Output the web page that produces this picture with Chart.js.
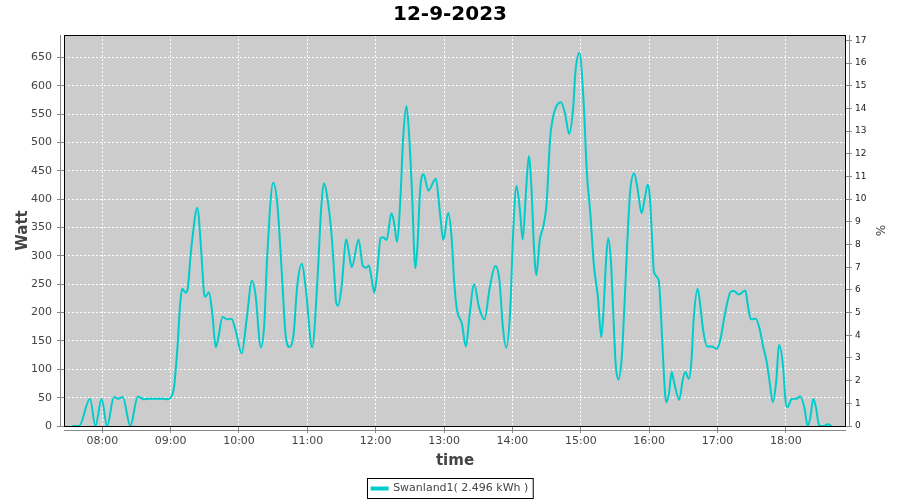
<!DOCTYPE html>
<html lang="en">
<head>
  <meta charset="UTF-8" />
  <title>12-9-2023</title>
  <script src="https://cdn.jsdelivr.net/npm/chart.js"></script>
  <style>
    body {
      margin: 0;
      background-color: #ffffff;
    }
    #wrap {
      width: 900px;
      height: 500px;
    }
  </style>
</head>
<body>
  <div id="wrap"><canvas id="powerChart"></canvas></div>

  <script>
    // time of day in hours, power in watt
    const times = [
      7.56, 7.66, 7.82, 7.90, 7.99, 8.07, 8.17, 8.23, 8.30, 8.41, 8.52, 8.61, 8.66, 8.78, 8.90, 8.95,
      9.00, 9.05, 9.10, 9.14, 9.17, 9.22, 9.25, 9.29, 9.32, 9.39, 9.45, 9.49, 9.51, 9.56, 9.61, 9.66,
      9.69, 9.76, 9.83, 9.89, 9.95, 10.04, 10.11, 10.19, 10.24, 10.32, 10.37, 10.41, 10.50, 10.56, 10.63, 10.68,
      10.74, 10.80, 10.85, 10.92, 10.98, 11.07, 11.15, 11.20, 11.24, 11.32, 11.36, 11.39, 11.42, 11.45, 11.50, 11.57,
      11.61, 11.65, 11.75, 11.81, 11.86, 11.90, 11.94, 11.98, 12.02, 12.07, 12.11, 12.16, 12.23, 12.27, 12.31, 12.36,
      12.40, 12.45, 12.49, 12.53, 12.58, 12.61, 12.65, 12.70, 12.77, 12.88, 12.94, 12.99, 13.06, 13.11, 13.15, 13.19,
      13.26, 13.32, 13.37, 13.44, 13.51, 13.59, 13.67, 13.75, 13.81, 13.86, 13.91, 13.97, 14.01, 14.06, 14.11, 14.15,
      14.20, 14.24, 14.28, 14.31, 14.35, 14.40, 14.45, 14.50, 14.55, 14.60, 14.71, 14.77, 14.83, 14.89, 14.92, 14.98,
      15.04, 15.09, 15.14, 15.19, 15.25, 15.30, 15.33, 15.37, 15.40, 15.44, 15.48, 15.51, 15.55, 15.60, 15.64, 15.68,
      15.72, 15.78, 15.83, 15.89, 15.94, 15.98, 16.01, 16.04, 16.07, 16.14, 16.17, 16.20, 16.25, 16.29, 16.33, 16.36,
      16.44, 16.49, 16.53, 16.58, 16.62, 16.65, 16.71, 16.75, 16.79, 16.85, 16.92, 16.99, 17.04, 17.10, 17.19, 17.24,
      17.31, 17.41, 17.44, 17.49, 17.56, 17.62, 17.67, 17.72, 17.76, 17.81, 17.86, 17.90, 17.96, 17.99, 18.02, 18.09,
      18.15, 18.21, 18.27, 18.32, 18.36, 18.40, 18.44, 18.49, 18.56, 18.61, 18.67
    ];
    const watts = [
      0, 0, 48, 0, 48, 0, 51, 48, 51, 0, 52, 47, 48, 48, 48, 47,
      50, 69, 139, 216, 242, 235, 242, 298, 333, 385, 304, 233, 228, 236, 198, 139,
      151, 192, 188, 189, 169, 128, 186, 256, 233, 139, 180, 292, 429, 392, 263, 163,
      139, 163, 245, 286, 239, 139, 263, 380, 428, 378, 328, 275, 219, 212, 245, 329,
      304, 280, 329, 283, 279, 283, 260, 235, 269, 331, 333, 328, 375, 358, 325, 398,
      504, 564, 510, 416, 278, 316, 416, 444, 415, 436, 375, 328, 376, 333, 251, 204,
      181, 140, 192, 250, 210, 188, 245, 282, 257, 175, 138, 210, 339, 423, 380, 329,
      416, 476, 416, 328, 266, 328, 351, 392, 504, 548, 571, 551, 515, 563, 622, 658,
      575, 445, 375, 286, 228, 157, 198, 292, 331, 292, 186, 110, 82, 122, 216, 322,
      410, 445, 419, 375, 404, 426, 404, 339, 272, 257, 204, 128, 42, 57, 95, 80,
      46, 80, 95, 83, 116, 186, 242, 210, 169, 140, 140, 136, 151, 192, 236, 238,
      232, 239, 216, 188, 189, 169, 139, 113, 80, 42, 80, 143, 104, 51, 33, 48,
      48, 52, 33, 0, 16, 48, 33, 0, 0, 3, 0
    ];

    const hourTicks = [8, 9, 10, 11, 12, 13, 14, 15, 16, 17, 18];
    const wattTicks = [0, 50, 100, 150, 200, 250, 300, 350, 400, 450, 500, 550, 600, 650];
    const pctTicks = [0, 1, 2, 3, 4, 5, 6, 7, 8, 9, 10, 11, 12, 13, 14, 15, 16, 17];

    const WATT_MAX = 689.4;
    const LINE = "#00cccc";
    const TXT = "#444444";

    function fixedTicks(list) {
      return scale => { scale.ticks = list.map(v => ({ value: v })); };
    }

    // grey plot background, black frame, offset axis lines, legend frame
    const frame = {
      id: "frame",
      beforeDraw(chart) {
        const a = chart.chartArea, ctx = chart.ctx;
        ctx.save();
        ctx.fillStyle = "#cccccc";
        ctx.fillRect(a.left, a.top, a.right - a.left, a.bottom - a.top);
        ctx.restore();
      },
      afterDraw(chart) {
        const a = chart.chartArea, ctx = chart.ctx;
        ctx.save();
        ctx.strokeStyle = "#000000";
        ctx.lineWidth = 1;
        ctx.strokeRect(a.left + 0.5, a.top + 0.5, a.right - a.left - 1, a.bottom - a.top);
        ctx.strokeStyle = "#888888";
        ctx.beginPath();
        ctx.moveTo(a.left - 3.5, a.top);
        ctx.lineTo(a.left - 3.5, a.bottom);
        ctx.moveTo(a.left, a.bottom + 4.5);
        ctx.lineTo(a.right, a.bottom + 4.5);
        ctx.moveTo(a.right + 3.5, a.top);
        ctx.lineTo(a.right + 3.5, a.bottom);
        ctx.stroke();

        const box = chart.legend.legendHitBoxes[0];
        if (box) {
          ctx.strokeStyle = "#000000";
          ctx.strokeRect(Math.round(box.left) - 4.5, Math.round(box.top) - 4.5, box.width + 9, box.height + 9);
        }
        ctx.restore();
      }
    };

    const ctx = document.getElementById("powerChart").getContext("2d");
    new Chart(ctx, {
      type: "line",
      data: {
        datasets: [{
          label: "Swanland1( 2.496 kWh )",
          data: times.map((t, i) => ({ x: t, y: watts[i] })),
          borderColor: LINE,
          backgroundColor: LINE,
          borderWidth: 2,
          pointRadius: 0,
          fill: false,
          cubicInterpolationMode: "monotone",
          yAxisID: "y"
        }]
      },
      options: {
        responsive: true,
        maintainAspectRatio: false,
        animation: false,
        layout: { padding: { left: 0, right: 0, top: 0, bottom: -4 } },
        plugins: {
          title: {
            display: true,
            text: "12-9-2023",
            color: "#000000",
            font: { family: "DejaVu Sans", size: 20, weight: "bold" },
            padding: { top: 3, bottom: 8 }
          },
          legend: {
            position: "bottom",
            labels: {
              boxWidth: 16,
              boxHeight: 2,
              color: TXT,
              padding: 3,
              font: { family: "DejaVu Sans", size: 11 }
            }
          },
          tooltip: { enabled: false }
        },
        scales: {
          x: {
            type: "linear",
            min: 7.44,
            max: 18.88,
            afterBuildTicks: fixedTicks(hourTicks),
            afterFit: s => { s.height = 54; },
            grid: { color: "#ffffff", tickColor: "#888888", tickLength: 7, tickBorderDash: [] },
            border: { display: false, dash: [2, 2] },
            ticks: {
              color: TXT,
              padding: 2,
              maxRotation: 0,
              font: { family: "DejaVu Sans", size: 11 },
              callback: v => String(v).padStart(2, "0") + ":00"
            },
            title: {
              display: true,
              text: "time",
              color: TXT,
              font: { family: "DejaVu Sans", size: 15, weight: "bold" },
              padding: { top: 0, bottom: 10 }
            }
          },
          y: {
            position: "left",
            min: 0,
            max: WATT_MAX,
            afterBuildTicks: fixedTicks(wattTicks),
            afterFit: s => { s.width = 64; },
            grid: { color: "#ffffff", tickColor: "#888888", tickLength: 7, tickBorderDash: [] },
            border: { display: false, dash: [2, 2] },
            ticks: {
              color: TXT,
              padding: 5,
              font: { family: "DejaVu Sans", size: 11 }
            },
            title: {
              display: true,
              text: "Watt",
              color: TXT,
              font: { family: "DejaVu Sans", size: 15, weight: "bold" },
              padding: { top: 14, bottom: 4 }
            }
          },
          y1: {
            position: "right",
            min: 0,
            max: WATT_MAX / 40,
            afterBuildTicks: fixedTicks(pctTicks),
            afterFit: s => { s.width = 54; },
            grid: { drawOnChartArea: false, tickColor: "#888888", tickLength: 6 },
            border: { display: false },
            ticks: {
              color: "#222222",
              padding: 3,
              font: { family: "DejaVu Sans", size: 9 }
            },
            title: {
              display: true,
              text: "%",
              color: TXT,
              font: { family: "DejaVu Sans", size: 12 },
              padding: { top: 14, bottom: 0 }
            }
          }
        }
      },
      plugins: [frame]
    });
  </script>
</body>
</html>
